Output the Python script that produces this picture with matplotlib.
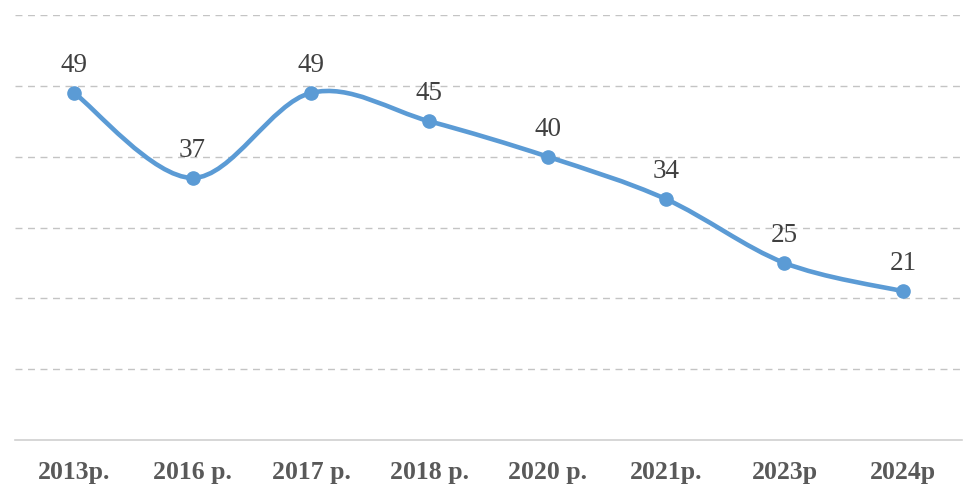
import numpy as np
import matplotlib.pyplot as plt
from matplotlib.path import Path
from matplotlib.patches import PathPatch

# categories and values
years = ["2013p.", "2016 p.", "2017 p.", "2018 p.", "2020 p.", "2021p.", "2023p", "2024p"]
values = [49, 37, 49, 45, 40, 34, 25, 21]

LINE_BLUE = "#5B9BD5"


def smooth_path(xs, ys) -> Path:
    """Excel-like smoothed line: cubic bezier through each point,
    control points from neighbouring points (Catmull-Rom style)."""
    pts = np.column_stack([xs, ys]).astype(float)
    n = len(pts)
    verts = [pts[0]]
    codes = [Path.MOVETO]
    for i in range(n - 1):
        p0 = pts[i - 1] if i > 0 else pts[i]
        p1 = pts[i]
        p2 = pts[i + 1]
        p3 = pts[i + 2] if i + 2 < n else pts[i + 1]
        c1 = p1 + (p2 - p0) / 6
        c2 = p2 - (p3 - p1) / 6
        verts += [c1, c2, p2]
        codes += [Path.CURVE4] * 3
    return Path(verts, codes)


fig = plt.figure(figsize=(9.77, 5), dpi=100)
ax = fig.add_axes([15 / 977, 1 - 440 / 500, 947 / 977, 425 / 500])

x = np.arange(len(years))
ax.set_xlim(-0.5, len(years) - 0.5)
ax.set_ylim(0, 60)

# dashed gridlines
for gy in range(10, 61, 10):
    ax.axhline(gy, color="#C4C4C4", linestyle=(0, (5, 4)), linewidth=1.0, zorder=1)

patch = PathPatch(smooth_path(x, values), facecolor="none", edgecolor=LINE_BLUE,
                  linewidth=3.3, capstyle="round", joinstyle="round", zorder=3)
ax.add_patch(patch)
ax.plot(x, values, linestyle="none", marker="o", markersize=9.5,
        color=LINE_BLUE, zorder=4)

for xi, v in zip(x, values):
    ax.annotate(str(v), (xi, v), xytext=(0, 15), textcoords="offset points",
                ha="center", va="baseline", fontsize=19.5,
                family="Liberation Serif", color="#404040")

for side in ["top", "right", "left"]:
    ax.spines[side].set_visible(False)
ax.spines["bottom"].set_color("#D0D0D0")
ax.spines["bottom"].set_linewidth(1.2)

ax.set_yticks([])
ax.set_xticks(x)
ax.set_xticklabels(years, family="Liberation Serif", fontweight="bold",
                   fontsize=18.5, color="#595959")
ax.tick_params(axis="x", length=0, pad=15)

plt.savefig("out.png", dpi=100)
